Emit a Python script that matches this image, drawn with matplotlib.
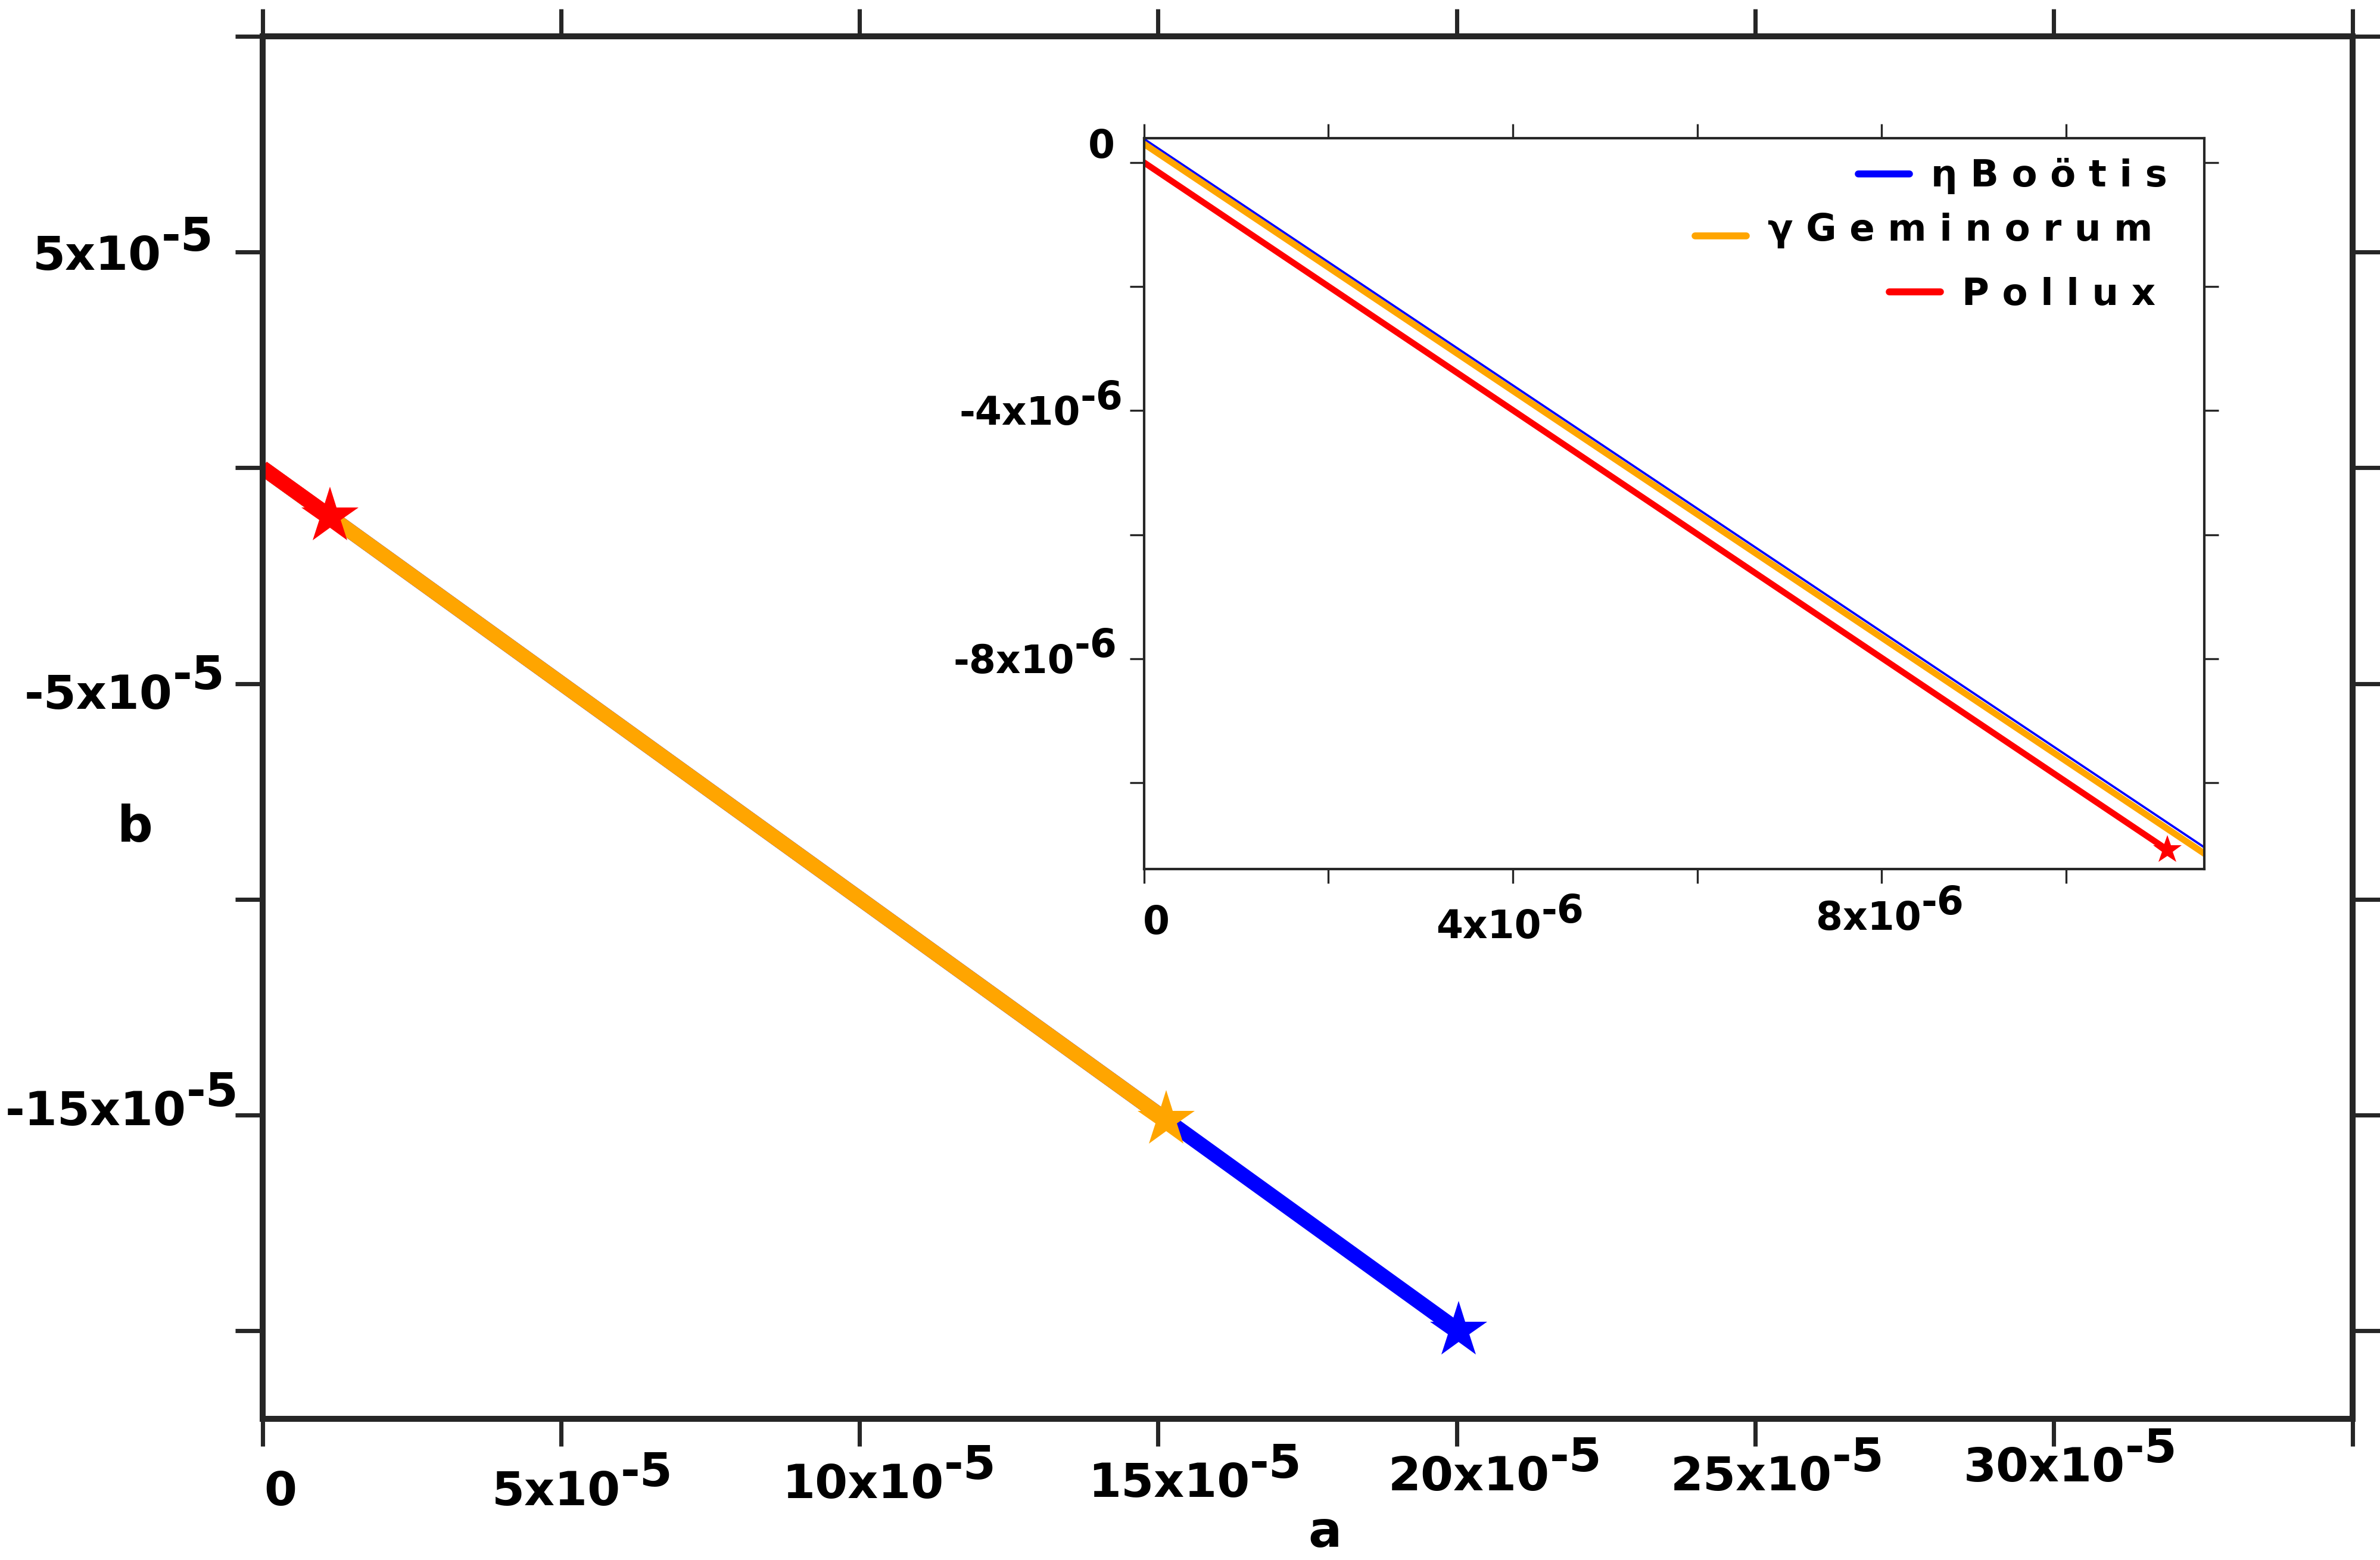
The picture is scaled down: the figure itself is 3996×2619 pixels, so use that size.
import matplotlib
matplotlib.use('Agg')
import matplotlib.pyplot as plt
import matplotlib.transforms as mtransforms

DPI = 300

# ---- data -------------------------------------------------------------
# main panel: each track runs from the origin to its end star
boo_a = [0.0, 20.03e-5]
boo_b = [0.0, -19.99e-5]
gem_a = [0.0, 15.14e-5]
gem_b = [0.0, -15.11e-5]
pol_a = [0.0, 1.13e-5]
pol_b = [0.0, -1.12e-5]

# inset (zoom near the origin)
boo_in_a = [0.0, 11.5e-6]
boo_in_b = [0.38e-6, -11.04e-6]
gem_in_a = [0.0, 11.5e-6]
gem_in_b = [0.30e-6, -11.14e-6]
pol_in_a = [0.0, 11.10e-6]
pol_in_b = [0.0, -11.08e-6]

names = ['η B o ö t i s', 'γ G e m i n o r u m', 'P o l l u x']
colors = ['#0000ff', '#ffa500', '#ff0000']

main_xticks = [0, 5e-5, 10e-5, 15e-5, 20e-5, 25e-5, 30e-5, 35e-5]
main_xlabels = ['0', '5', '10', '15', '20', '25', '30']
main_yticks = [10e-5, 5e-5, 0, -5e-5, -10e-5, -15e-5, -20e-5]
main_ylabel_vals = [5e-5, -5e-5, -15e-5]
main_ylabels = ['5', '-5', '-15']

in_xticks = [0, 2e-6, 4e-6, 6e-6, 8e-6, 10e-6]
in_xlabel_vals = [0, 4e-6, 8e-6]
in_xlabels = ['0', '4', '8']
in_yticks = [0, -2e-6, -4e-6, -6e-6, -8e-6, -10e-6]
in_ylabel_vals = [0, -4e-6, -8e-6]
in_ylabels = ['0', '-4', '-8']

# label nudges in output pixels (the original staggers them a bit)
main_x_dx = [30, 36, 50, 62, 64, 37, 28]
main_x_dy = [145, 145, 133, 131, 120, 120, 105]
main_y_dx = [82, 63, 40]
main_y_dy = [30, 42, 17]
in_x_dx = [21, -5, 14]
in_x_dy = [109, 116, 102]
in_y_dx = [49, 35, 45]
in_y_dy = [-8, 24, 24]

plt.rcParams['font.family'] = ['DejaVu Sans']
plt.rcParams['font.weight'] = 'bold'

SPINE = '#262626'


def nudge(fig, dx, dy):
    return mtransforms.ScaledTranslation(dx / DPI, dy / DPI, fig.dpi_scale_trans)


def sci_label(fig, ax, x, y, trans, mant, exp, size, anchor, dx, dy):
    # "mant x10" with a full size, raised "-exp" like the original
    r = fig.canvas.get_renderer()
    if mant == '0':
        t = ax.text(x, y, '0', fontsize=size, ha='left', va='baseline',
                    transform=trans)
        w = t.get_window_extent(r).width
        left = dx - w / 2 if anchor == 'center' else -dx - w
        t.set_transform(trans + nudge(fig, left, -dy))
        return
    base = ax.text(x, y, mant + 'x10', fontsize=size, ha='left',
                   va='baseline', transform=trans)
    sup = ax.text(x, y, '-' + str(exp), fontsize=size, ha='left',
                  va='baseline', transform=trans)
    wb = base.get_window_extent(r).width
    ws = sup.get_window_extent(r).width
    total = wb + ws
    left = dx - total / 2 if anchor == 'center' else -dx - total
    rise = 0.41 * size * DPI / 72
    base.set_transform(trans + nudge(fig, left, -dy))
    sup.set_transform(trans + nudge(fig, left + wb, -dy + rise))


fig = plt.figure(figsize=(3996 / DPI, 2619 / DPI), dpi=DPI)
fig.patch.set_facecolor('white')

# ---- main panel ---------------------------------------------------------
ax = fig.add_axes([0.11024, 0.09049, 0.87815, 0.88622])
ax.set_xlim(0, 35e-5)
ax.set_ylim(-22.04e-5, 10e-5)

for a, b, c in [(boo_a, boo_b, colors[0]), (gem_a, gem_b, colors[1]),
                (pol_a, pol_b, colors[2])]:
    ax.plot(a, b, color=c, lw=6, solid_capstyle='butt', zorder=2)
    ax.plot(a[-1], b[-1], marker='*', ms=24, color=c, mec='none',
            zorder=3, clip_on=False)

ax.set_xticks(main_xticks)
ax.set_yticks(main_yticks)
ax.tick_params(direction='out', length=11, width=1.7, color=SPINE,
               top=True, right=True, labelbottom=False, labelleft=False)
for s in ax.spines.values():
    s.set_linewidth(2.4)
    s.set_color(SPINE)

xt = ax.get_xaxis_transform()
for v, lab, dx, dy in zip(main_xticks, main_xlabels, main_x_dx, main_x_dy):
    sci_label(fig, ax, v, 0, xt, lab, 5, 19, 'center', dx, dy)
yt = ax.get_yaxis_transform()
for v, lab, dx, dy in zip(main_ylabel_vals, main_ylabels, main_y_dx, main_y_dy):
    sci_label(fig, ax, 0, v, yt, lab, 5, 19, 'right', dx, dy)

fig.text(2225 / 3996, 1 - 2597 / 2619, 'a', fontsize=20, ha='center', va='baseline')
fig.text(227 / 3996, 1 - 1389 / 2619, 'b', fontsize=20, ha='center', va='center')

# ---- inset ----------------------------------------------------------------
ins = fig.add_axes([0.48065, 0.44292, 0.44553, 0.46861])
ins.set_xlim(0, 11.5e-6)
ins.set_ylim(-11.39e-6, 0.394e-6)
ins.plot(boo_in_a, boo_in_b, color=colors[0], lw=0.9, zorder=2)
ins.plot(gem_in_a, gem_in_b, color=colors[1], lw=2.6, zorder=2)
ins.plot(pol_in_a, pol_in_b, color=colors[2], lw=2.5, zorder=2)
ins.plot(pol_in_a[-1], pol_in_b[-1], marker='*', ms=12, color=colors[2],
         mec='none', zorder=3)

ins.set_xticks(in_xticks)
ins.set_yticks(in_yticks)
ins.tick_params(direction='out', length=5.8, width=0.8, color=SPINE,
                top=True, right=True, labelbottom=False, labelleft=False)
for s in ins.spines.values():
    s.set_linewidth(1.0)
    s.set_color(SPINE)

xt = ins.get_xaxis_transform()
for v, lab, dx, dy in zip(in_xlabel_vals, in_xlabels, in_x_dx, in_x_dy):
    sci_label(fig, ins, v, 0, xt, lab, 6, 15.5, 'center', dx, dy)
yt = ins.get_yaxis_transform()
for v, lab, dx, dy in zip(in_ylabel_vals, in_ylabels, in_y_dx, in_y_dy):
    sci_label(fig, ins, 0, v, yt, lab, 6, 15.5, 'right', dx, dy)

# legend, right aligned like the original: handle sits just left of the text
leg_right = [0.9652, 0.9511, 0.9539]
leg_base = [0.9338, 0.8596, 0.7716]
leg_line_y = [0.9511, 0.8661, 0.7895]
texts = []
for name, xr, y in zip(names, leg_right, leg_base):
    texts.append(ins.text(xr, y, name, fontsize=15, ha='right',
                          va='baseline', transform=ins.transAxes))

fig.canvas.draw()
inv = ins.transAxes.inverted()
for t, c, y in zip(texts, colors, leg_line_y):
    bb = t.get_window_extent()
    x_end = inv.transform((bb.x0 - 36, 0))[0]
    x_start = inv.transform((bb.x0 - 36 - 86, 0))[0]
    ins.plot([x_start, x_end], [y, y], color=c, lw=2.8,
             solid_capstyle='round', transform=ins.transAxes, clip_on=False)

fig.savefig('out.png', dpi=DPI, facecolor='white')
